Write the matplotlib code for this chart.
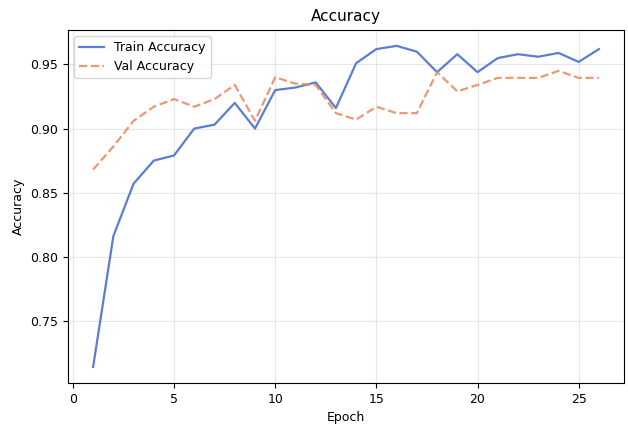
import matplotlib
matplotlib.use('Agg')
import matplotlib.pyplot as plt

epochs = list(range(1, 27))

train_acc = [0.714, 0.816, 0.857, 0.875, 0.879, 0.900, 0.903, 0.920, 0.900, 0.930,
             0.932, 0.936, 0.916, 0.951, 0.962, 0.9645, 0.960, 0.944, 0.958, 0.944,
             0.955, 0.958, 0.956, 0.959, 0.952, 0.962]

val_acc = [0.868, 0.886, 0.906, 0.917, 0.923, 0.917, 0.923, 0.934, 0.906, 0.940,
           0.935, 0.934, 0.912, 0.907, 0.917, 0.912, 0.912, 0.944, 0.929, 0.934,
           0.9395, 0.9395, 0.9395, 0.945, 0.9395, 0.9395]

fig = plt.figure(figsize=(6.28, 4.26), dpi=100)
ax = fig.add_axes([0.108, 0.101, 0.886, 0.829])

ax.plot(epochs, train_acc, color='#4a6fcf', linewidth=1.6, alpha=0.9, label='Train Accuracy')
ax.plot(epochs, val_acc, color='#e8875c', linewidth=1.6, linestyle='--', alpha=0.85, label='Val Accuracy')

ax.set_title('Accuracy', fontsize=11)
ax.set_xlabel('Epoch', fontsize=9)
ax.set_ylabel('Accuracy', fontsize=9)
ax.tick_params(labelsize=9)
ax.grid(True, alpha=0.3)
ax.legend(loc='upper left', fontsize=9)

fig.savefig('out.png', dpi=100)
